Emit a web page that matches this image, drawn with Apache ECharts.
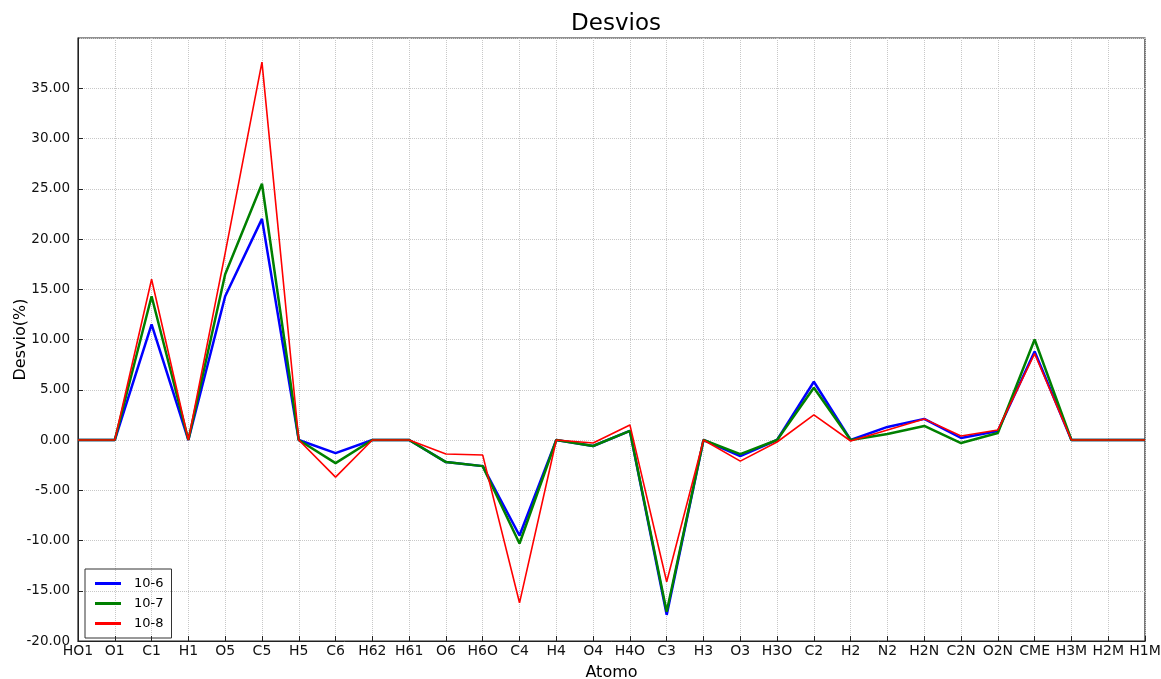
<!DOCTYPE html>
<html>
<head>
<meta charset="utf-8">
<script src="https://cdn.jsdelivr.net/npm/echarts@6/dist/echarts.min.js"></script>
<style>
  html, body { margin: 0; padding: 0; background: #fff; }
  #main { width: 1161px; height: 679px; }
</style>
</head>
<body>
<div id="main"></div>
<script>
const atoms = ["HO1", "O1", "C1", "H1", "O5", "C5", "H5", "C6", "H62", "H61", "O6", "H6O", "C4", "H4", "O4", "H4O", "C3", "H3", "O3", "H3O", "C2", "H2", "N2", "H2N", "C2N", "O2N", "CME", "H3M", "H2M", "H1M"];
const dev6 = [0, 0, 11.5, 0, 14.3, 22.0, 0, -1.3, 0, 0, -2.2, -2.6, -9.5, 0, -0.6, 0.9, -17.4, 0, -1.6, 0, 5.8, 0, 1.3, 2.1, 0.2, 0.9, 8.8, 0, 0, 0];
const dev7 = [0, 0, 14.3, 0, 16.5, 25.5, 0, -2.3, 0, 0, -2.2, -2.6, -10.3, 0, -0.6, 0.9, -17.1, 0, -1.4, 0, 5.2, 0, 0.6, 1.4, -0.3, 0.7, 10.0, 0, 0, 0];
const dev8 = [0, 0, 16.0, 0, 18.6, 37.6, 0, -3.7, 0, 0, -1.4, -1.5, -16.2, 0, -0.3, 1.5, -14.1, 0, -2.1, -0.2, 2.5, -0.1, 1.0, 2.1, 0.4, 1.0, 8.6, 0, 0, 0];

const font = "DejaVu Sans";
const chart = echarts.init(document.getElementById("main"));

function line(name, data, color, width) {
  return {
    name, data, type: "line", symbol: "none", animation: false,
    lineStyle: { color, width }, itemStyle: { color }
  };
}

chart.setOption({
  textStyle: { fontFamily: font },
  title: {
    text: "Desvios", left: 611, top: 8, textAlign: "center",
    textStyle: { fontFamily: font, fontSize: 23, fontWeight: "normal", color: "#000" }
  },
  grid: {
    left: 78, right: 16, top: 38, bottom: 38,
    outerBoundsMode: "none", containLabel: false,
    show: true, borderColor: "#222", borderWidth: 1.2, backgroundColor: "#fff"
  },
  legend: {
    orient: "vertical", left: 85, top: 569,
    borderColor: "#333", borderWidth: 1, padding: [8, 8, 8, 10],
    itemGap: 7, itemWidth: 26, itemHeight: 3, icon: "rect",
    textStyle: { fontFamily: font, fontSize: 13, color: "#000", padding: [0, 0, 0, 8] },
    data: ["10-6", "10-7", "10-8"]
  },
  xAxis: {
    type: "category", data: atoms, boundaryGap: false,
    name: "Atomo", nameLocation: "middle", nameGap: 24, nameMoveOverlap: false,
    nameTextStyle: { fontFamily: font, fontSize: 16, color: "#000" },
    axisLine: { onZero: false, lineStyle: { color: "#222" } },
    axisTick: { inside: true, length: 5, lineStyle: { color: "#222" } },
    axisLabel: { interval: 0, fontFamily: font, fontSize: 14, color: "#111", margin: 3 },
    splitLine: { show: true, lineStyle: { type: "dotted", color: "#c8c8c8" } }
  },
  yAxis: {
    type: "value", min: -20, max: 40, interval: 5,
    name: "Desvio(%)", nameLocation: "middle", nameGap: 49, nameMoveOverlap: false,
    nameTextStyle: { fontFamily: font, fontSize: 16, color: "#000" },
    axisLine: { show: true, lineStyle: { color: "#222" } },
    axisTick: { show: true, inside: true, length: 5, lineStyle: { color: "#222" } },
    axisLabel: {
      fontFamily: font, fontSize: 13.5, color: "#111", showMaxLabel: false,
      formatter: v => v.toFixed(2)
    },
    splitLine: { show: true, lineStyle: { type: "dotted", color: "#c8c8c8" } }
  },
  series: [
    line("10-6", dev6, "#0000ff", 2.5),
    line("10-7", dev7, "#008000", 2.5),
    line("10-8", dev8, "#ff0000", 1.6)
  ]
});
</script>
</body>
</html>
